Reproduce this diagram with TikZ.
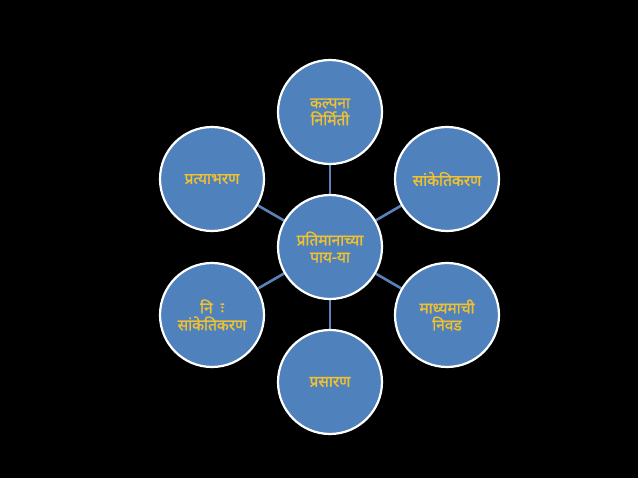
\documentclass[tikz,border=0pt]{standalone}
\usepackage{fontspec}
\newfontfamily\deva[Script=Devanagari,FakeBold=1.3]{Noto Sans}
\definecolor{bluefill}{HTML}{4F81BD}
\definecolor{linkblue}{HTML}{5B82B8}
\definecolor{txtgold}{HTML}{F2C12E}
\begin{document}
\begin{tikzpicture}[x=1pt,y=-1pt,
  bubble/.style={circle, fill=bluefill, draw=white, line width=2.2pt, minimum size=104pt, inner sep=0pt, align=center, text=txtgold, font=\deva\fontsize{15.5}{17}\selectfont},
  link/.style={draw=linkblue, line width=2.6pt}]
\fill[black] (0,0) rectangle (638,478);
\useasboundingbox (0,0) rectangle (638,478);
\coordinate (c) at (330,247);
\draw[link] (c) -- (330,112);
\draw[link] (c) -- (447,179);
\draw[link] (c) -- (447,315);
\draw[link] (c) -- (330,382);
\draw[link] (c) -- (212,315);
\draw[link] (c) -- (212,179);
\node[bubble] (top) at (330,112) {कल्पना\\निर्मिती};
\node[bubble] (ur) at (447,179) {सांकेतिकरण};
\node[bubble] (lr) at (447,315) {माध्यमाची\\निवड};
\node[bubble] (bot) at (330,382) {प्रसारण};
\node[bubble] (ll) at (212,315) {नि \symbol{"00A0}ः\\सांकेतिकरण};
\node[bubble] (ul) at (212,179) {प्रत्याभरण};
\node[bubble] (center) at (c) {प्रतिमानाच्या\\पाय-या};
\end{tikzpicture}
\end{document}
